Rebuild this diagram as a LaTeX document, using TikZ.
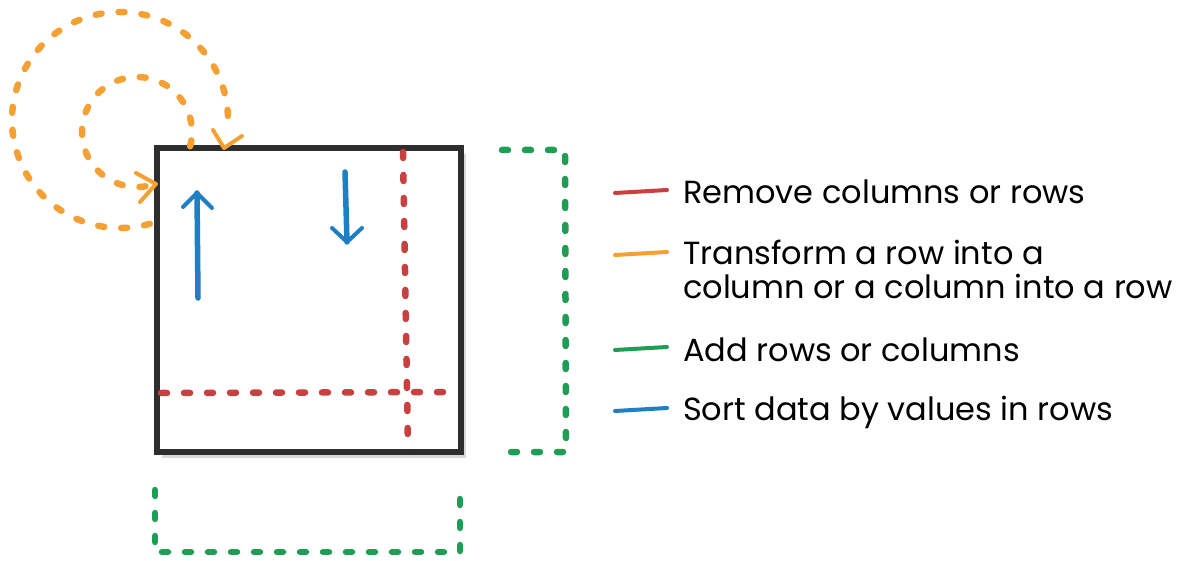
\documentclass[tikz,border=0pt]{standalone}
\usepackage{fontspec}
\setmainfont{Poppins}
\usetikzlibrary{arrows.meta,shadows,calc}
\definecolor{cred}{HTML}{C8403F}
\definecolor{corange}{HTML}{F5A033}
\definecolor{cgreen}{HTML}{1F9D55}
\definecolor{cblue}{HTML}{1F7FC4}
\definecolor{cbox}{HTML}{2E2E2E}
\begin{document}
\begin{tikzpicture}[x=1pt,y=-1pt,
  dots/.style={line width=6.5pt, line cap=round, dash pattern=on 6pt off 17pt},
  head/.style={line width=4pt, line cap=round, line join=round},
  legtext/.style={anchor=base west, font=\fontsize{32}{38}\selectfont, inner sep=0pt},
  swatch/.style={line width=4pt, line cap=round}]
\useasboundingbox (0,0) rectangle (1198,561);
% main table
\node[draw=cbox, line width=6pt, fill=white, minimum width=304pt, minimum height=304pt,
  drop shadow={opacity=0.3,shadow xshift=5pt,shadow yshift=-6pt}] (table) at (309,300) {};
% red removal lines
\coordinate (rv1) at (403,152);
\coordinate (rv2) at (408,449);
\coordinate (rh1) at (161,393);
\coordinate (rh2) at (458,392);
\draw[cred,dots] (rv1) -- (rv2);
\draw[cred,dots] (rh1) -- (rh2);
% green added columns / rows
\coordinate (g1) at (502,150);
\coordinate (g2) at (565,150);
\coordinate (g3) at (566,452);
\coordinate (g4) at (500,452);
\draw[cgreen,dots] (g1) -- (g2) -- (g3) -- (g4);
\coordinate (b1) at (155,490);
\coordinate (b2) at (155,552);
\coordinate (b3) at (460,552);
\coordinate (b4) at (460,487);
\draw[cgreen,dots] (b1) -- (b2) -- (b3) -- (b4);
% orange transform arcs
\coordinate (oc) at (120,120);
\coordinate (ic) at (137,132);
\draw[corange,dots] (oc) ++(74:108) arc[start angle=74,end angle=366,radius=108];
\coordinate (ot) at (224,148);
\draw[corange,head] (213,130) -- (ot) -- (242,136);
\draw[corange,dots] (ic) ++(15:55) arc[start angle=15,end angle=-285,radius=55];
\coordinate (it) at (156,184);
\draw[corange,head] (136,173) -- (it) -- (140,202);
% blue sort arrows
\coordinate (u1) at (198,298);
\coordinate (u2) at (197,193);
\coordinate (d1) at (345,172);
\coordinate (d2) at (347,242);
\draw[cblue,line width=5.5pt,line cap=round] (u1) -- (u2);
\draw[cblue,head] (183,207) -- (u2) -- (212,208);
\draw[cblue,line width=5.5pt,line cap=round] (d1) -- (d2);
\draw[cblue,head] (332,228) -- (d2) -- (362,228);
% legend
\coordinate (s1a) at (615,193); \coordinate (s1b) at (667,190);
\coordinate (s2a) at (615,255); \coordinate (s2b) at (667,252);
\coordinate (s3a) at (615,350); \coordinate (s3b) at (667,347);
\coordinate (s4a) at (615,411); \coordinate (s4b) at (667,408);
\draw[swatch,cred] (s1a) -- (s1b);
\draw[swatch,corange] (s2a) -- (s2b);
\draw[swatch,cgreen] (s3a) -- (s3b);
\draw[swatch,cblue] (s4a) -- (s4b);
\node[legtext] (l1) at (683,204) {Remove columns or rows};
\node[legtext] (l2a) at (683,264) {Transform a row into a};
\node[legtext] (l2b) at (683,298) {column or a column into a row};
\node[legtext] (l3) at (683,361) {Add rows or columns};
\node[legtext] (l4) at (683,420) {Sort data by values in rows};
\end{tikzpicture}
\end{document}
